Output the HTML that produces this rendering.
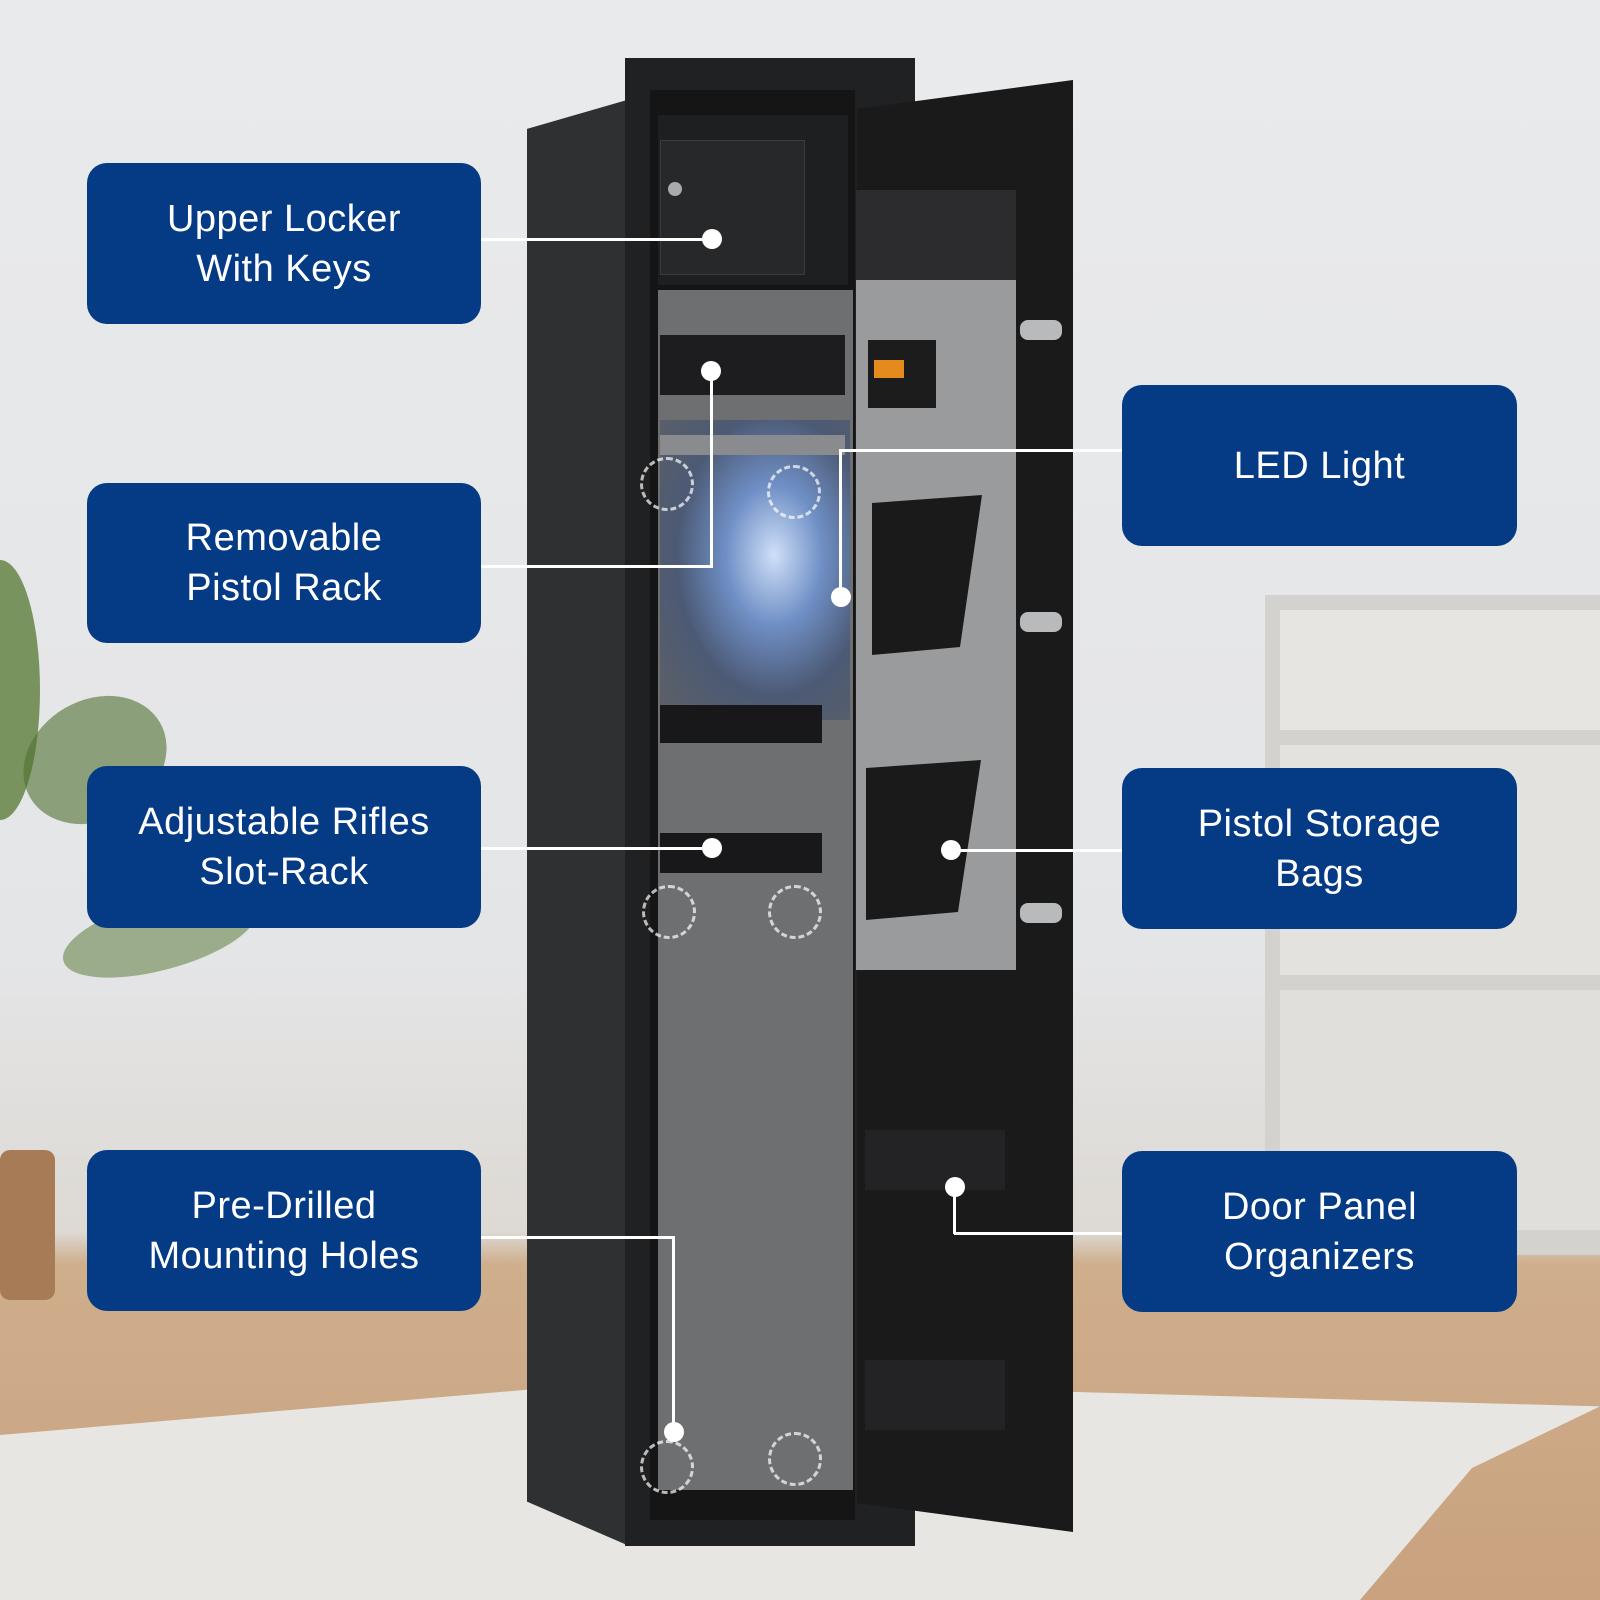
<!DOCTYPE html>
<html><head><meta charset="utf-8"><style>
*{margin:0;padding:0;box-sizing:border-box}
body{width:1600px;height:1600px;position:relative;overflow:hidden;font-family:"Liberation Sans","DejaVu Sans",sans-serif;background:linear-gradient(180deg,#e9eaec 0%,#e4e5e7 60%,#ddd9d3 77%,#cfae8c 79%,#c9a27f 100%)}
.a{position:absolute}
.box{position:absolute;background:#053a85;border-radius:20px;color:#fff;font-size:38px;line-height:50px;text-align:center;display:flex;align-items:center;justify-content:center;letter-spacing:0.5px}
.h{position:absolute;height:3px;background:#fff}
.v{position:absolute;width:3px;background:#fff}
.d{position:absolute;width:20px;height:20px;border-radius:50%;background:#fff;margin:-10px 0 0 -10px}
.ring{position:absolute;width:54px;height:54px;border-radius:50%;border:3px dashed rgba(255,255,255,.7)}
</style></head><body>
<!-- background furniture -->
<div class="a" style="left:1265px;top:595px;width:335px;height:660px;background:#d4d2ce"></div>
<div class="a" style="left:1280px;top:610px;width:320px;height:120px;background:#e6e5e2"></div>
<div class="a" style="left:1280px;top:745px;width:320px;height:230px;background:#e3e2df"></div>
<div class="a" style="left:1280px;top:990px;width:320px;height:240px;background:#e0dfdb"></div>
<!-- plant hints -->
<div class="a" style="left:-40px;top:560px;width:80px;height:260px;border-radius:50%;background:#5d7e3a;opacity:.8"></div>
<div class="a" style="left:20px;top:700px;width:150px;height:120px;border-radius:50%;background:#4f7030;opacity:.6;transform:rotate(-30deg)"></div>
<div class="a" style="left:60px;top:900px;width:200px;height:70px;border-radius:50%;background:#5c7e3c;opacity:.55;transform:rotate(-15deg)"></div>
<div class="a" style="left:0;top:1150px;width:55px;height:150px;border-radius:10px;background:#a77b55"></div>
<!-- rug -->
<div class="a" style="left:0;top:1380px;width:1600px;height:220px;background:#e8e6e3;clip-path:polygon(0 25%,40% 0,100% 12%,92% 40%,85% 100%,0 100%)"></div>
<!-- safe body -->
<div class="a" style="left:527px;top:100px;width:100px;height:1445px;background:#2f3032;clip-path:polygon(0 2%,100% 0,100% 100%,0 97%)"></div>
<div class="a" style="left:625px;top:58px;width:290px;height:1488px;background:#202123"></div>
<div class="a" style="left:650px;top:90px;width:205px;height:1430px;background:#151516"></div>
<!-- upper locker -->
<div class="a" style="left:658px;top:115px;width:190px;height:170px;background:#1e1f21"></div>
<div class="a" style="left:660px;top:140px;width:145px;height:135px;background:#27282a;border:1px solid #3a3b3d"></div>
<div class="a" style="left:668px;top:182px;width:14px;height:14px;border-radius:50%;background:#aaa"></div>
<!-- felt back -->
<div class="a" style="left:658px;top:290px;width:195px;height:1200px;background:#6e6f71"></div>
<div class="a" style="left:660px;top:420px;width:190px;height:300px;background:radial-gradient(ellipse at 60% 45%,#cfe0f8 0%,#6f8fc5 30%,#4c5a75 60%,#5e6064 100%)"></div>
<div class="a" style="left:660px;top:335px;width:185px;height:60px;background:#1d1d1f"></div>
<div class="a" style="left:660px;top:435px;width:185px;height:20px;background:#8a8b8e"></div>
<div class="a" style="left:660px;top:705px;width:162px;height:38px;background:#18181a"></div>
<div class="a" style="left:660px;top:833px;width:162px;height:40px;background:#18181a"></div>
<div class="ring" style="left:640px;top:457px"></div><div class="ring" style="left:767px;top:465px"></div>
<div class="ring" style="left:642px;top:885px"></div><div class="ring" style="left:768px;top:885px"></div>
<div class="ring" style="left:640px;top:1440px"></div><div class="ring" style="left:768px;top:1432px"></div>
<!-- door -->
<div class="a" style="left:857px;top:80px;width:216px;height:1452px;background:#1a1a1b;clip-path:polygon(0 2%,100% 0,100% 100%,0 98%)"></div>
<div class="a" style="left:856px;top:190px;width:160px;height:95px;background:#2c2c2e"></div>
<div class="a" style="left:856px;top:280px;width:160px;height:690px;background:#9a9b9d"></div>
<div class="a" style="left:868px;top:340px;width:68px;height:68px;background:#1c1c1c"></div>
<div class="a" style="left:874px;top:360px;width:30px;height:18px;background:#e58a1c"></div>
<div class="a" style="left:872px;top:495px;width:110px;height:160px;background:#1a1a1a;clip-path:polygon(0 5%,100% 0,80% 95%,0 100%)"></div>
<div class="a" style="left:866px;top:760px;width:115px;height:160px;background:#1a1a1a;clip-path:polygon(0 5%,100% 0,80% 95%,0 100%)"></div>
<div class="a" style="left:865px;top:1130px;width:140px;height:60px;background:#232325"></div>
<div class="a" style="left:865px;top:1360px;width:140px;height:70px;background:#232325"></div>
<div class="a" style="left:1020px;top:320px;width:42px;height:20px;border-radius:8px;background:#b9babb"></div>
<div class="a" style="left:1020px;top:612px;width:42px;height:20px;border-radius:8px;background:#b9babb"></div>
<div class="a" style="left:1020px;top:903px;width:42px;height:20px;border-radius:8px;background:#b9babb"></div>
<!-- connectors -->
<div class="h" style="left:481px;top:238px;width:231px"></div><div class="d" style="left:712px;top:239px"></div>
<div class="h" style="left:481px;top:565px;width:232px"></div><div class="v" style="left:710px;top:371px;height:197px"></div><div class="d" style="left:711px;top:371px"></div>
<div class="h" style="left:481px;top:847px;width:231px"></div><div class="d" style="left:712px;top:848px"></div>
<div class="h" style="left:481px;top:1236px;width:194px"></div><div class="v" style="left:672px;top:1236px;height:196px"></div><div class="d" style="left:674px;top:1432px"></div>
<div class="h" style="left:840px;top:449px;width:282px"></div><div class="v" style="left:839px;top:449px;height:148px"></div><div class="d" style="left:841px;top:597px"></div>
<div class="h" style="left:951px;top:849px;width:171px"></div><div class="d" style="left:951px;top:850px"></div>
<div class="h" style="left:954px;top:1232px;width:168px"></div><div class="v" style="left:953px;top:1187px;height:47px"></div><div class="d" style="left:955px;top:1187px"></div>
<!-- labels -->
<div class="box" style="left:87px;top:163px;width:394px;height:161px">Upper Locker<br>With Keys</div>
<div class="box" style="left:87px;top:483px;width:394px;height:160px">Removable<br>Pistol Rack</div>
<div class="box" style="left:87px;top:766px;width:394px;height:162px">Adjustable Rifles<br>Slot-Rack</div>
<div class="box" style="left:87px;top:1150px;width:394px;height:161px">Pre-Drilled<br>Mounting Holes</div>
<div class="box" style="left:1122px;top:385px;width:395px;height:161px">LED Light</div>
<div class="box" style="left:1122px;top:768px;width:395px;height:161px">Pistol Storage<br>Bags</div>
<div class="box" style="left:1122px;top:1151px;width:395px;height:161px">Door Panel<br>Organizers</div>
</body></html>
